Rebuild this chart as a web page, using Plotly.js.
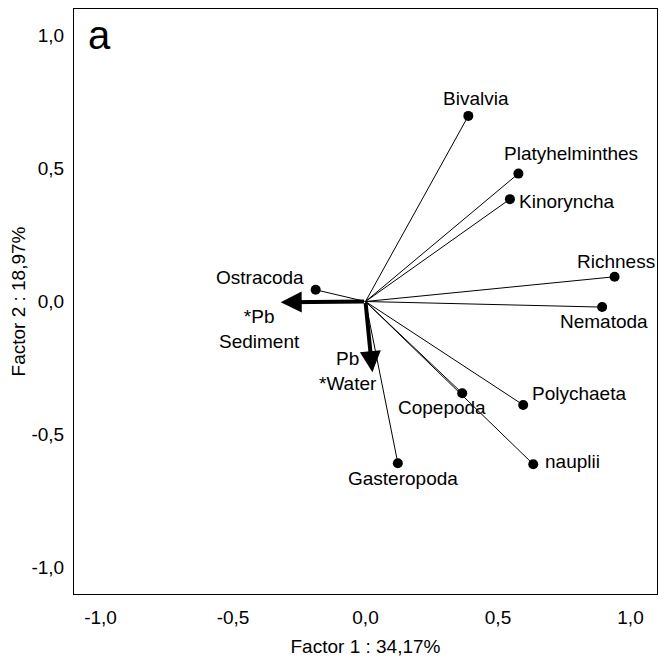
<!DOCTYPE html>
<html><head><meta charset="utf-8">
<script src="https://cdn.plot.ly/plotly-3.0.1.min.js"></script>
<style>html,body{margin:0;padding:0;background:#fff}</style>
</head><body><div id="chart" style="width:659px;height:659px"></div>
<script>
// ---- data ----
const varNames = ['Bivalvia','Platyhelminthes','Kinoryncha','Richness','Nematoda','Polychaeta','nauplii','Copepoda','Gasteropoda','Ostracoda'];
const factor1  = [0.388, 0.577, 0.545, 0.940, 0.893, 0.595, 0.633, 0.365, 0.122, -0.188];
const factor2  = [0.698, 0.481, 0.385, 0.093, -0.021, -0.389, -0.612, -0.345, -0.608, 0.044];
const arrowNames = ['*Pb<br>Sediment', 'Pb<br>*Water'];
const arrowF1 = [-0.320, 0.026];
const arrowF2 = [-0.003, -0.266];
const tickVals = [-1, -0.5, 0, 0.5, 1];
const tickText = ['-1,0', '-0,5', '0,0', '0,5', '1,0'];

// ---- label placement (pixel offsets; styling only) ----
const labelDx = [8, 53, 57, 1, 2, 56, 39, -20, 5, -56];
const labelDy = [-17, -20, 2, -15, 14, -11, -3, 14, 15, -12];
const arrowLabelDx = [-21, -24];
const arrowLabelDy = [27, -1];

const FONT = 'Liberation Sans, Arial, sans-serif';
const lx = [], ly = [];
factor1.forEach((v, i) => { lx.push(0, v, null); ly.push(0, factor2[i], null); });

const traces = [
  {type:'scatter', mode:'lines', x:lx, y:ly, line:{color:'#000', width:1}, hoverinfo:'skip', showlegend:false},
  {type:'scatter', mode:'markers', x:factor1, y:factor2, marker:{color:'#000', size:10}, showlegend:false}
];

const annotations = [];
varNames.forEach((n, i) => annotations.push({
  x:factor1[i], y:factor2[i], xref:'x', yref:'y', text:n, showarrow:false,
  xshift:labelDx[i], yshift:-labelDy[i], font:{family:FONT, size:19, color:'#000'}
}));
arrowNames.forEach((n, i) => {
  annotations.push({
    x:arrowF1[i], y:arrowF2[i], ax:0, ay:0, xref:'x', yref:'y', axref:'x', ayref:'y',
    text:'', showarrow:true, arrowhead:2, arrowsize:1.05, arrowwidth:4, arrowcolor:'#000', standoff:0
  });
  annotations.push({
    x:arrowF1[i], y:arrowF2[i], xref:'x', yref:'y', text:n, showarrow:false,
    xshift:arrowLabelDx[i], yshift:-arrowLabelDy[i], font:{family:FONT, size:19, color:'#000'}
  });
});
annotations.push({xref:'paper', yref:'paper', x:0.043, y:0.956, xanchor:'center', yanchor:'middle',
  text:'a', showarrow:false, font:{family:FONT, size:40, color:'#000'}});

const axisCommon = {
  range:[-1.1, 1.1], tickmode:'array', tickvals:tickVals, ticktext:tickText,
  showgrid:false, zeroline:false, showline:true, mirror:true, linecolor:'#000', linewidth:1,
  ticks:'', tickfont:{family:FONT, size:19, color:'#000'}
};

const layout = {
  width:659, height:659, paper_bgcolor:'#fff', plot_bgcolor:'#fff',
  margin:{l:74, r:2, t:9, b:65},
  font:{family:FONT, color:'#000'},
  xaxis:Object.assign({}, axisCommon, {ticklabelstandoff:6,
    title:{text:'Factor 1 : 34,17%', font:{family:FONT, size:19, color:'#000'}, standoff:12}}),
  yaxis:Object.assign({}, axisCommon, {ticklabelstandoff:5,
    title:{text:'Factor 2 : 18,97%', font:{family:FONT, size:19, color:'#000'}, standoff:0}}),
  annotations:annotations, showlegend:false
};

Plotly.newPlot('chart', traces, layout, {displayModeBar:false, staticPlot:true});
</script></body></html>
